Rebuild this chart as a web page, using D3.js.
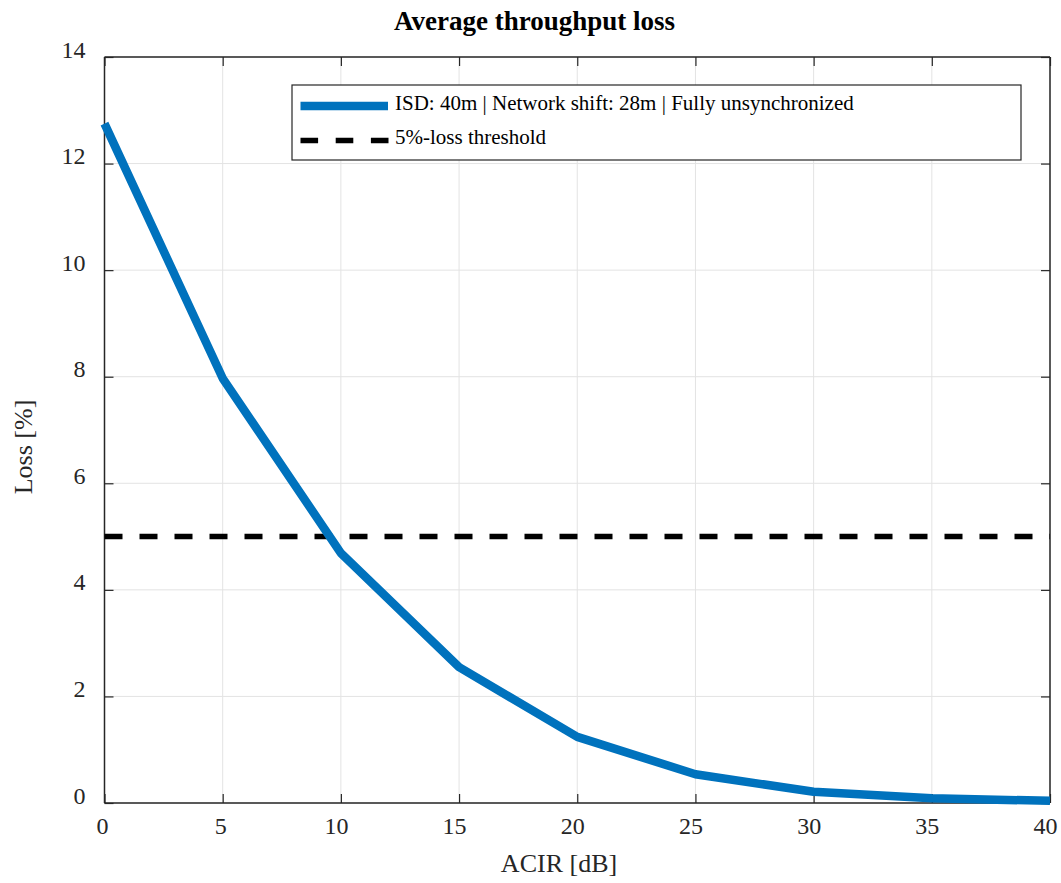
<!DOCTYPE html>
<html><head><meta charset="utf-8">
<script src="https://cdn.jsdelivr.net/npm/d3@7"></script>
<style>body{margin:0;background:#fff}svg{display:block}</style>
</head><body>
<script>
const acir = [0, 5, 10, 15, 20, 25, 30, 35, 40];
const loss = [12.75, 7.97, 4.69, 2.55, 1.24, 0.54, 0.21, 0.09, 0.04];
const threshold = 5;
const xTicks = [0, 5, 10, 15, 20, 25, 30, 35, 40];
const yTicks = [0, 2, 4, 6, 8, 10, 12, 14];
const seriesNames = ["ISD: 40m | Network shift: 28m | Fully unsynchronized", "5%-loss threshold"];

const W = 1061, H = 883;
const m = {l: 104.5, t: 57, r: 1050, b: 803};
const svg = d3.select("body").append("svg").attr("width", W).attr("height", H);
const font = "Liberation Serif, Times New Roman, serif";
const x = d3.scaleLinear().domain([0, 40]).range([m.l, m.r]);
const y = d3.scaleLinear().domain([0, 14]).range([m.b, m.t]);

// grid
svg.append("g").selectAll("line").data(xTicks).join("line")
  .attr("x1", d => x(d)).attr("x2", d => x(d)).attr("y1", m.t).attr("y2", m.b)
  .attr("stroke", "#e3e3e3").attr("stroke-width", 1);
svg.append("g").selectAll("line").data(yTicks).join("line")
  .attr("y1", d => y(d)).attr("y2", d => y(d)).attr("x1", m.l).attr("x2", m.r)
  .attr("stroke", "#e3e3e3").attr("stroke-width", 1);

// axes
const xb = svg.append("g").attr("transform", `translate(0,${m.b})`)
  .call(d3.axisBottom(x).tickValues(xTicks).tickSize(-9).tickFormat(d3.format("d")));
const xt = svg.append("g").attr("transform", `translate(0,${m.t})`)
  .call(d3.axisTop(x).tickValues(xTicks).tickSize(-9).tickFormat(""));
const yl = svg.append("g").attr("transform", `translate(${m.l},0)`)
  .call(d3.axisLeft(y).tickValues(yTicks).tickSize(-9).tickFormat(d3.format("d")));
const yr = svg.append("g").attr("transform", `translate(${m.r},0)`)
  .call(d3.axisRight(y).tickValues(yTicks).tickSize(-9).tickFormat(""));
[xb, xt, yl, yr].forEach(g => {
  g.attr("font-family", font).attr("font-size", 24);
  g.selectAll("path").attr("stroke", "#262626").attr("stroke-width", 1.5);
  g.selectAll("line").attr("stroke", "#262626").attr("stroke-width", 1.2);
  g.selectAll("text").attr("font-family", font).attr("font-size", 24).attr("fill", "#262626");
});
xb.selectAll("path").attr("d", `M${m.l},0H${m.r}`);
xt.selectAll("path").attr("d", `M${m.l},0H${m.r}`);
yl.selectAll("path").attr("d", `M0,${m.t}V${m.b}`);
yr.selectAll("path").attr("d", `M0,${m.t}V${m.b}`);
xb.selectAll("text").attr("y", 31).attr("dy", 0)
  .attr("dx", d => String(d).length > 1 ? -5 : -2.5);
yl.selectAll("text").attr("x", -19).attr("dy", 0);

// threshold
svg.append("line").attr("x1", x(0)).attr("x2", x(40)).attr("y1", y(threshold)).attr("y2", y(threshold))
  .attr("stroke", "#000").attr("stroke-width", 5.5).attr("stroke-dasharray", "18,17");

// series
const line = d3.line().x((d, i) => x(acir[i])).y(d => y(d));
svg.append("path").datum(loss).attr("d", line).attr("fill", "none")
  .attr("stroke", "#0072BD").attr("stroke-width", 8.5).attr("stroke-linejoin", "round");

// title & labels
svg.append("text").attr("x", 534.5).attr("y", 30).attr("text-anchor", "middle")
  .attr("font-family", font).attr("font-size", 27).attr("font-weight", "bold").attr("fill", "#000")
  .text("Average throughput loss");
svg.append("text").attr("x", 559).attr("y", 872).attr("text-anchor", "middle")
  .attr("font-family", font).attr("font-size", 26).attr("fill", "#262626").text("ACIR [dB]");
svg.append("text").attr("transform", `translate(32,447) rotate(-90)`).attr("text-anchor", "middle")
  .attr("font-family", font).attr("font-size", 26).attr("fill", "#262626").text("Loss [%]");

// legend
const lg = svg.append("g");
lg.append("rect").attr("x", 292).attr("y", 85).attr("width", 729).attr("height", 75)
  .attr("fill", "#fff").attr("stroke", "#262626").attr("stroke-width", 1.2);
lg.append("line").attr("x1", 300.5).attr("x2", 388).attr("y1", 106).attr("y2", 106)
  .attr("stroke", "#0072BD").attr("stroke-width", 8.5);
lg.append("line").attr("x1", 300.5).attr("x2", 388.5).attr("y1", 140.5).attr("y2", 140.5)
  .attr("stroke", "#000").attr("stroke-width", 5.5).attr("stroke-dasharray", "17.6,17.6");
lg.selectAll("text").data(seriesNames).join("text")
  .attr("x", 395).attr("y", (d, i) => 110 + i * 34)
  .attr("font-family", font).attr("font-size", 21).attr("fill", "#000").text(d => d);
</script>
</body></html>
